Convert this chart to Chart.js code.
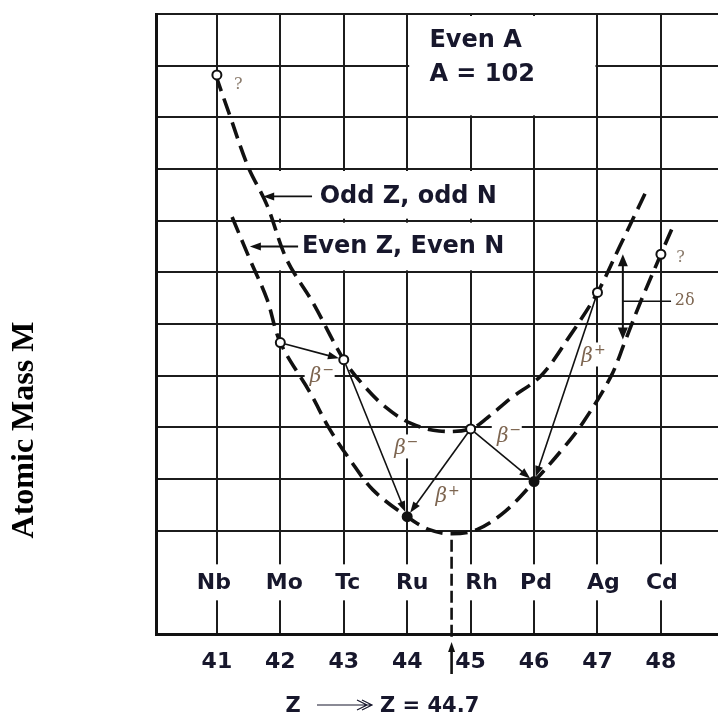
<!DOCTYPE html>
<html><head><meta charset="utf-8">
<script src="https://cdn.jsdelivr.net/npm/chart.js@4.4.1/dist/chart.umd.min.js"></script>
<style>html,body{margin:0;padding:0;background:#fff;}#wrap{width:718px;height:715px;position:relative;}</style>
</head><body><div id="wrap"><canvas id="c"></canvas></div>
<script>
// ---------------- data ----------------
const zTicks = [41, 42, 43, 44, 45, 46, 47, 48];
const elementNames = ['Nb', 'Mo', 'Tc', 'Ru', 'Rh', 'Pd', 'Ag', 'Cd'];
const massTicks = [0,1,2,3,4,5,6,7,8,9,10,11,12];
// odd Z, odd N parabola
const oddZ = [40.98, 41.20, 41.49, 41.79, 42.10, 42.51, 43.00, 43.30, 43.65, 44.05, 44.50, 45.00, 45.27, 45.62, 46.11, 46.57, 47.00, 47.35, 47.80];
const oddM = [10.82, 10.05, 9.05, 8.30, 7.25, 6.42, 5.31, 4.83, 4.40, 4.08, 3.93, 3.97, 4.19, 4.55, 5.00, 5.78, 6.61, 7.50, 8.65];
// even Z, even N parabola
const evenZ = [41.24, 41.52, 41.79, 42.00, 42.47, 42.78, 43.10, 43.46, 44.00, 44.35, 44.70, 45.10, 45.55, 46.00, 46.45, 46.77, 47.21, 47.43, 47.67, 48.00, 48.19];
const evenM = [8.07, 7.25, 6.48, 5.64, 4.67, 3.96, 3.37, 2.79, 2.27, 2.02, 1.94, 2.02, 2.38, 2.95, 3.58, 4.09, 4.98, 5.65, 6.40, 7.35, 7.89];
// nuclides
const oddPointZ = [41, 43, 45, 47];
const oddPointM = [10.82, 5.31, 3.97, 6.61];
const evenPointZ = [42, 44, 46, 48];
const evenPointM = [5.64, 2.27, 2.95, 7.35];
// decays: from, to, type
const decays = [['Mo','Tc','-'], ['Tc','Ru','-'], ['Rh','Ru','+'], ['Rh','Pd','-'], ['Ag','Pd','+']];
const zMinimum = 44.7;
const massNumber = 102;

// ---------------- layout of annotations (drawing only) ----------------
const SANS = '"DejaVu Sans", sans-serif';
const SERIF = '"DejaVu Serif", serif';
const INK = '#17172c';
const BROWN = '#7d6550';
const betaPos = [[42.62, 5.02], [43.95, 3.63], [44.60, 2.69], [45.57, 3.86], [46.90, 5.41]];
const elemShift = [-3, 4, 4, 5, 11, 2, 6, 1];

function nuclide(name) {
  const i = elementNames.indexOf(name);
  const z = zTicks[i];
  let k = oddPointZ.indexOf(z);
  if (k >= 0) return {z, m: oddPointM[k]};
  k = evenPointZ.indexOf(z);
  return {z, m: evenPointM[k]};
}

function head(ctx, x, y, ang, len, half) {
  ctx.beginPath();
  ctx.moveTo(x, y);
  ctx.lineTo(x - len * Math.cos(ang) + half * Math.sin(ang), y - len * Math.sin(ang) - half * Math.cos(ang));
  ctx.lineTo(x - len * Math.cos(ang) - half * Math.sin(ang), y - len * Math.sin(ang) + half * Math.cos(ang));
  ctx.closePath();
  ctx.fill();
}
function arrow(ctx, x1, y1, x2, y2, lw, len, half, both) {
  const a = Math.atan2(y2 - y1, x2 - x1);
  ctx.lineWidth = lw;
  ctx.beginPath();
  ctx.moveTo(x1 + (both ? len * 0.7 * Math.cos(a) : 0), y1 + (both ? len * 0.7 * Math.sin(a) : 0));
  ctx.lineTo(x2 - len * 0.7 * Math.cos(a), y2 - len * 0.7 * Math.sin(a));
  ctx.stroke();
  head(ctx, x2, y2, a, len, half);
  if (both) head(ctx, x1, y1, a + Math.PI, len, half);
}
function beta(ctx, cx, cy, sign) {
  ctx.fillStyle = BROWN;
  ctx.font = 'italic 20px ' + SERIF;
  const wb = ctx.measureText('β').width;
  const total = wb + 8;
  const x0 = cx - total / 2;
  ctx.textAlign = 'left';
  ctx.textBaseline = 'middle';
  ctx.fillText('β', x0, cy + 2);
  ctx.font = '14px ' + SANS;
  ctx.fillText(sign === '-' ? '−' : '+', x0 + wb + 1, cy - 4);
}

const annotate = {
  id: 'annotate',
  beforeDatasetsDraw(chart) {
    const ctx = chart.ctx, X = v => chart.scales.x.getPixelForValue(v), Y = v => chart.scales.y.getPixelForValue(v);
    ctx.save();
    ctx.fillStyle = '#fff';
    // title box
    ctx.fillRect(X(44) + 2, Y(12) + 2, X(47) - X(44) - 4, Y(10) - Y(12) - 4);
    // legend text rows
    ctx.fillRect(X(41.82), Y(9) + 2, X(45.95) - X(41.82), Y(8) - Y(9) - 4);
    ctx.fillRect(X(41.82), Y(8) + 2, X(45.95) - X(41.82), Y(7) - Y(8) - 4);
    // element label boxes
    ctx.font = 'bold 22px ' + SANS;
    elementNames.forEach((n, i) => {
      const w = ctx.measureText(n).width + 10;
      const cx = X(zTicks[i]) + elemShift[i];
      ctx.fillRect(cx - w / 2, Y(1) - 18, w, 36);
    });
    // beta label boxes
    betaPos.forEach(p => ctx.fillRect(X(p[0]) - 15, Y(p[1]) - 12, 30, 24));
    ctx.restore();
  },
  afterDatasetsDraw(chart) {
    const ctx = chart.ctx, X = v => chart.scales.x.getPixelForValue(v), Y = v => chart.scales.y.getPixelForValue(v);
    ctx.save();
    ctx.strokeStyle = '#111';
    ctx.fillStyle = '#111';
    // decay arrows
    decays.forEach(d => {
      const a = nuclide(d[0]), b = nuclide(d[1]);
      let x1 = X(a.z), y1 = Y(a.m), x2 = X(b.z), y2 = Y(b.m);
      const ang = Math.atan2(y2 - y1, x2 - x1);
      x1 += 5 * Math.cos(ang); y1 += 5 * Math.sin(ang);
      x2 -= 5 * Math.cos(ang); y2 -= 5 * Math.sin(ang);
      arrow(ctx, x1, y1, x2, y2, 1.6, 11, 4, false);
    });
    decays.forEach((d, i) => beta(ctx, X(betaPos[i][0]), Y(betaPos[i][1]), d[2]));
    ctx.strokeStyle = '#111'; ctx.fillStyle = '#111';
    // pairing gap 2δ
    arrow(ctx, X(47.4), Y(7.35), X(47.4), Y(5.70), 2, 12, 5, true);
    ctx.lineWidth = 1.6;
    ctx.beginPath(); ctx.moveTo(X(47.4), Y(6.44)); ctx.lineTo(X(48.16), Y(6.44)); ctx.stroke();
    ctx.fillStyle = BROWN;
    ctx.font = '16px ' + SERIF;
    ctx.textAlign = 'left'; ctx.textBaseline = 'middle';
    ctx.fillText('2δ', X(48.22), Y(6.44));
    ctx.fillStyle = '#8a7b6c';
    ctx.font = '16px ' + SERIF;
    ctx.fillText('?', X(41.27), Y(10.62));
    ctx.fillText('?', X(48.24), Y(7.29));
    // legend texts and arrows
    ctx.fillStyle = '#111'; ctx.strokeStyle = '#111';
    arrow(ctx, X(42.5), Y(8.47), X(41.73), Y(8.47), 1.8, 11, 4, false);
    arrow(ctx, X(42.28), Y(7.5), X(41.52), Y(7.5), 1.8, 11, 4, false);
    ctx.fillStyle = INK;
    ctx.font = 'bold 24px ' + SANS;
    ctx.textAlign = 'left'; ctx.textBaseline = 'middle';
    ctx.fillText('Odd Z, odd N', X(42.62), Y(8.47));
    ctx.fillText('Even Z, Even N', X(42.34), Y(7.50));
    ctx.fillText('Even A', X(44.35), Y(11.48));
    ctx.fillText('A = ' + massNumber, X(44.35), Y(10.82));
    // element names
    ctx.font = 'bold 22px ' + SANS;
    ctx.textAlign = 'center';
    elementNames.forEach((n, i) => ctx.fillText(n, X(zTicks[i]) + elemShift[i], Y(1) + 1));
    // minimum line
    ctx.strokeStyle = '#111'; ctx.fillStyle = '#111';
    const xm = X(zMinimum);
    ctx.lineWidth = 2.6;
    ctx.setLineDash([12, 5]);
    ctx.beginPath(); ctx.moveTo(xm, Y(1.94) + 6); ctx.lineTo(xm, Y(0) + 6); ctx.stroke();
    ctx.setLineDash([]);
    arrow(ctx, xm, Y(0) + 40, xm, Y(0) + 8, 2.6, 10, 3.5, false);
    // axis titles
    ctx.fillStyle = INK;
    ctx.font = 'bold 21px ' + SANS;
    ctx.textAlign = 'center'; ctx.textBaseline = 'alphabetic';
    ctx.fillText('Z', 293, 712);
    ctx.textAlign = 'left';
    ctx.fillText('Z = ' + zMinimum, 380, 712);
    ctx.strokeStyle = INK; ctx.lineWidth = 1.2;
    ctx.beginPath(); ctx.moveTo(317, 705); ctx.lineTo(371, 705);
    ctx.moveTo(357, 700); ctx.lineTo(367, 705); ctx.lineTo(357, 710);
    ctx.moveTo(362, 700); ctx.lineTo(372, 705); ctx.lineTo(362, 710);
    ctx.stroke();
    ctx.save();
    ctx.translate(33, 430);
    ctx.rotate(-Math.PI / 2);
    ctx.fillStyle = '#000';
    ctx.font = 'bold 32px "Liberation Serif", "Times New Roman", serif';
    ctx.textAlign = 'center'; ctx.textBaseline = 'alphabetic';
    ctx.fillText('Atomic Mass M', 0, 0);
    ctx.restore();
    ctx.restore();
  }
};

const toXY = (zs, ms) => zs.map((z, i) => ({x: z, y: ms[i]}));
const GRID = '#1c1c1c';

new Chart(document.getElementById('c'), {
  type: 'scatter',
  data: {
    datasets: [
      {label: 'Odd Z, odd N nuclides', data: toXY(oddPointZ, oddPointM), pointRadius: 4.5, pointBorderWidth: 2, pointBorderColor: '#111', pointBackgroundColor: '#fff', order: 0},
      {label: 'Even Z, even N nuclides', data: toXY(evenPointZ, evenPointM), pointRadius: 4.5, pointBorderWidth: 2, pointBorderColor: '#111',
        pointBackgroundColor: c => (c.dataIndex === 1 || c.dataIndex === 2) ? '#111' : '#fff', order: 0},
      {label: 'Odd Z, odd N', data: toXY(oddZ, oddM), showLine: true, borderColor: '#111', borderWidth: 3.6, borderDash: [17, 8], pointRadius: 0, tension: 0.35, order: 1},
      {label: 'Even Z, Even N', data: toXY(evenZ, evenM), showLine: true, borderColor: '#111', borderWidth: 3.6, borderDash: [17, 8], pointRadius: 0, tension: 0.35, order: 1}
    ]
  },
  options: {
    responsive: true, maintainAspectRatio: false, animation: false,
    layout: {autoPadding: false, padding: {left: 156, top: 14, right: 0, bottom: 0}},
    plugins: {legend: {display: false}, tooltip: {enabled: false}},
    scales: {
      x: {
        type: 'linear', min: 40.04, max: 48.9,
        afterBuildTicks: ax => { ax.ticks = zTicks.map(v => ({value: v})); },
        afterFit: ax => { ax.height = 81; },
        ticks: {color: INK, font: {family: '"DejaVu Sans"', size: 22, weight: 'bold'}, padding: 15, callback: v => String(v), maxRotation: 0, autoSkip: false},
        grid: {color: GRID, lineWidth: 2, drawTicks: false},
        border: {display: true, color: '#111', width: 3}
      },
      y: {
        type: 'linear', min: 0, max: 12,
        afterBuildTicks: ax => { ax.ticks = massTicks.map(v => ({value: v})); },
        afterFit: ax => { ax.width = 0; },
        ticks: {display: false},
        grid: {color: c => (c.tick && (c.tick.value === 1 || c.tick.value === 0)) ? 'rgba(0,0,0,0)' : GRID, lineWidth: 2, drawTicks: false},
        border: {display: true, color: '#111', width: 3}
      }
    }
  },
  plugins: [annotate]
});
</script>
</body></html>
